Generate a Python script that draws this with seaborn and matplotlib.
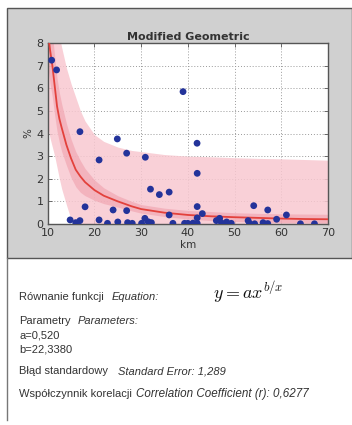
import matplotlib
matplotlib.use("Agg")
import matplotlib.pyplot as plt
import seaborn as sns
import pandas as pd
from matplotlib.patches import Rectangle
from matplotlib.lines import Line2D

# ---- data ----
dist_km = [10.85, 11.9, 38.97, 16.9, 24.9, 26.9, 21.0, 30.9, 41.97, 42.0, 32.0, 33.9, 36.0,
           18.0, 24.0, 26.9, 36.0, 42.0, 43.1, 42.0, 54.1, 57.1, 61.1, 59.0, 30.8,
           14.8, 16.0, 16.9, 21.0, 22.8, 25.0, 27.1, 28.1, 30.1, 31.5, 32.2, 36.8, 39.3,
           40.0, 41.1, 42.0, 46.1, 46.8, 47.2, 48.3, 49.3, 52.9, 53.2, 54.3, 56.1, 57.1,
           64.1, 67.1]
pct = [7.24, 6.81, 5.85, 4.08, 3.76, 3.13, 2.83, 2.95, 3.57, 2.24, 1.54, 1.30, 1.41,
       0.76, 0.62, 0.59, 0.40, 0.77, 0.46, 0.27, 0.81, 0.62, 0.40, 0.21, 0.25,
       0.18, 0.06, 0.15, 0.18, 0.03, 0.09, 0.06, 0.03, 0.03, 0.10, 0.06, 0.03, 0.03,
       0.03, 0.04, 0.03, 0.15, 0.25, 0.05, 0.09, 0.03, 0.15, 0.03, 0.01, 0.06, 0.02,
       0.01, 0.01]

curve_x = [10, 10.5, 11, 11.5, 12, 12.5, 13, 14, 15, 16, 17, 18, 20, 22, 25, 28, 30,
           35, 40, 45, 50, 55, 60, 65, 70]
curve_y = [8.6, 7.7, 7.0, 6.1, 5.2, 4.65, 4.25, 3.5, 2.9, 2.4, 2.1, 1.85, 1.5, 1.25,
           1.0, 0.78, 0.66, 0.50, 0.40, 0.34, 0.30, 0.27, 0.24, 0.22, 0.21]
conf_hi = [10.2, 9.2, 8.4, 7.4, 6.45, 5.8, 5.3, 4.45, 3.75, 3.2, 2.8, 2.45, 1.95, 1.6,
           1.25, 1.0, 0.86, 0.70, 0.60, 0.55, 0.50, 0.47, 0.45, 0.44, 0.43]
conf_lo = [7.0, 6.2, 5.6, 4.8, 4.1, 3.6, 3.2, 2.6, 2.05, 1.65, 1.4, 1.25, 1.05, 0.90,
           0.75, 0.58, 0.48, 0.33, 0.22, 0.15, 0.11, 0.08, 0.06, 0.05, 0.04]
pred_hi = [11.0, 10.5, 10.0, 9.4, 8.8, 8.3, 7.8, 6.9, 6.2, 5.6, 5.0, 4.55, 3.95, 3.65,
           3.4, 3.25, 3.2, 3.07, 3.0, 2.97, 2.93, 2.9, 2.88, 2.85, 2.82]
pred_lo = [4.3, 3.8, 3.4, 3.0, 2.5, 2.0, 1.55, 0.85, 0.2, -0.3, -0.5, -0.7, -0.95,
           -1.1, -1.4, -1.6, -1.7, -1.9, -2.0, -2.1, -2.2, -2.2, -2.3, -2.3, -2.4]

x_ticks = [10, 20, 30, 40, 50, 60, 70]
y_ticks = [0, 1, 2, 3, 4, 5, 6, 7, 8]

# ---- figure ----
W, H = 352, 425
fig = plt.figure(figsize=(W / 100, H / 100), dpi=100)
fig.patch.set_facecolor("white")

# gray panel behind the chart
fig.add_artist(Rectangle((7 / W, 1 - 258 / H), (W - 7) / W, 250 / H,
                         transform=fig.transFigure, facecolor="#d0d0d0",
                         edgecolor="#555555", linewidth=1.0, zorder=0))
# left border line continuing down
fig.add_artist(Line2D([7.5 / W, 7.5 / W], [1 - 258 / H, 1 - 420 / H],
                      transform=fig.transFigure, color="#777777", linewidth=1.0))

ax = fig.add_axes([47.7 / W, 1 - 224 / H, 280.3 / W, 181 / H])
ax.set_facecolor("white")

ax.fill_between(curve_x, pred_lo, pred_hi, color="#f8c8d0", alpha=0.85, linewidth=0, zorder=1)
ax.fill_between(curve_x, conf_lo, conf_hi, color="#f0a0ad", alpha=0.6, linewidth=0, zorder=2)

df_curve = pd.DataFrame({"km": curve_x, "pct": curve_y})
sns.lineplot(data=df_curve, x="km", y="pct", ax=ax, color="#e3413c", linewidth=1.3, zorder=3)

df_pts = pd.DataFrame({"km": dist_km, "pct": pct})
sns.scatterplot(data=df_pts, x="km", y="pct", ax=ax, color="#23339a", s=24,
                edgecolor="none", zorder=4)

ax.set_xlim(10, 70)
ax.set_ylim(0, 8)
ax.set_xticks(x_ticks)
ax.set_yticks(y_ticks)
ax.grid(True, linestyle=(0, (1, 2)), color="#9a9a9a", linewidth=0.7, zorder=0)
ax.set_axisbelow(True)
ax.tick_params(direction="in", length=3, width=0.6, colors="#555555",
               labelcolor="#333333", labelsize=8, top=True, right=True)
ax.tick_params(axis="x", pad=3)
ax.tick_params(axis="y", pad=3)
for s in ax.spines.values():
    s.set_color("#555555")
    s.set_linewidth(1.0)

ax.set_xlabel("km", fontsize=7.5, color="#333333", labelpad=1)
ax.set_ylabel("%", fontsize=7.5, color="#333333", labelpad=2)
ax.set_title("Modified Geometric", fontsize=8, color="#333333", fontweight="semibold", pad=2)

# ---- text block ----
fam = ["Liberation Sans", "DejaVu Sans"]
tc = "#333333"
fs = 8.0

def put(xp, yp, s, **kw):
    fig.text(xp / W, 1 - yp / H, s, fontsize=kw.pop("fontsize", fs), color=tc,
             family=kw.pop("family", fam), va="center", ha="left", **kw)

put(19, 297, "Równanie funkcji")
put(112, 297, "Equation:", style="italic")
fig.text(213 / W, 1 - 293 / H, r"$y = ax^{b/x}$", fontsize=13, color="#111111",
         va="center", ha="left", math_fontfamily="cm")
put(19, 321, "Parametry")
put(78, 321, "Parameters:", style="italic")
put(19, 335, "a=0,520")
put(19, 349, "b=22,3380")
put(19, 371, "Błąd standardowy")
put(118, 371, "Standard Error: 1,289", style="italic")
put(19, 394, "Współczynnik korelacji")
put(136, 394, "Correlation Coefficient (r): 0,6277", style="italic", fontsize=8.4)

fig.savefig("out.png", dpi=100, facecolor="white")
